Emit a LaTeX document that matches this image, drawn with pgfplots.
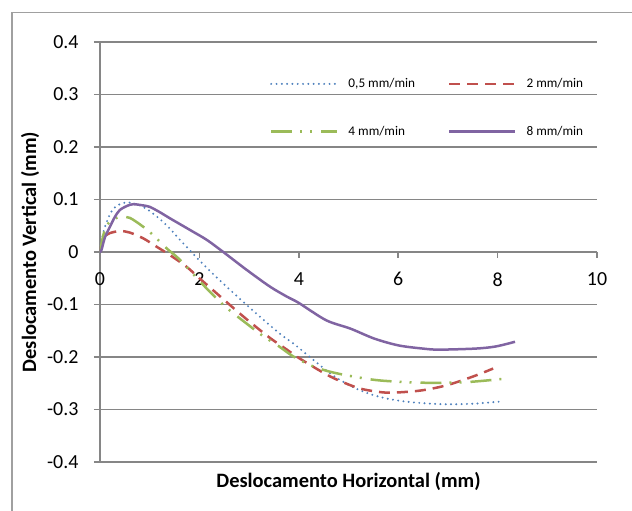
\documentclass[border=0pt]{standalone}
\usepackage{fontspec}
\setmainfont{Carlito}
\usepackage{pgfplots}
\pgfplotsset{compat=1.18}
\definecolor{gridgray}{RGB}{134,134,134}
\definecolor{framegray}{RGB}{160,160,160}
\definecolor{sA}{RGB}{79,129,189}
\definecolor{sB}{RGB}{192,80,77}
\definecolor{sC}{RGB}{155,187,89}
\definecolor{sD}{RGB}{128,100,162}
\begin{document}
\begin{tikzpicture}[x=1bp,y=1bp]
\useasboundingbox (-100,-49) rectangle (532,462);
\draw[framegray, line width=1.3bp] (-88,-60) -- (-88,449.5) -- (545,449.5);
\begin{axis}[
  at={(0bp,0bp)}, anchor=south west,
  scale only axis, width=497bp, height=420bp,
  xmin=0, xmax=10, ymin=-0.4, ymax=0.4,
  axis x line=bottom, axis y line=left,
  axis x line shift={-210bp},
  axis line style={draw=gridgray, line width=1.5bp, -},
  ymajorgrids, grid style={gridgray, line width=1.5bp},
  xtick={0,2,4,6,8,10}, xticklabels={0,2,4,6,8,10},
  ytick={-0.4,-0.3,-0.2,-0.1,0,0.1,0.2,0.3,0.4},
  yticklabels={-0.4,-0.3,-0.2,-0.1,0,0.1,0.2,0.3,0.4},
  hide obscured x ticks=false, hide obscured y ticks=false,
  tick align=outside, major tick length=6bp,
  tick style={gridgray, line width=1.5bp},
  ticklabel style={font=\fontsize{20}{24}\selectfont, text=black},
  yticklabel style={xshift=-12bp},
  xticklabel style={yshift=-11bp},
  /pgf/number format/assume math mode=true,
  xlabel={Deslocamento Horizontal (mm)},
  ylabel={Deslocamento Vertical (mm)},
  label style={font=\fontsize{20.5}{24}\selectfont\bfseries},
  xlabel style={at={(axis description cs:0.5,0)}, anchor=center, yshift=-19bp},
  ylabel style={at={([xshift=-70bp]axis description cs:0,0.5)}, anchor=center},
  legend columns=2, legend cell align=left,
  legend image code/.code={\draw[#1] (0bp,0bp) -- (66bp,0bp);},
  legend style={draw=none, fill=none, inner sep=0pt, outer sep=0pt,
    at={(rel axis cs:0.342,0.913)}, anchor=north west,
    font=\fontsize{13.3}{16}\selectfont, row sep=37bp,
    nodes={inner sep=0pt},
    /tikz/every odd column/.style={column sep=10bp},
    /tikz/every even column/.style={column sep=33bp}},
]
\addplot[sA, line width=2.2bp, line cap=round, dash pattern=on 0bp off 5.3bp, smooth] coordinates {
(0,0) (0.05,0.03) (0.1,0.048) (0.2,0.072) (0.3,0.085) (0.45,0.093) (0.6,0.094) (0.8,0.089) (1.0,0.078) (1.2,0.063) (1.4,0.045) (1.6,0.024) (1.8,0.004) (2.0,-0.016) (2.2,-0.035) (2.5,-0.062) (2.8,-0.088) (3.0,-0.105) (3.3,-0.13) (3.65,-0.158) (3.9,-0.175) (4.3,-0.206) (4.7,-0.236) (5.15,-0.26) (5.55,-0.274) (6.0,-0.283) (6.5,-0.288) (7.0,-0.29) (7.5,-0.289) (8.05,-0.285)};
\addlegendentry{0,5 mm/min}
\addplot[sB, line width=2.5bp, dash pattern=on 11bp off 7bp, smooth] coordinates {
(0,0) (0.05,0.02) (0.1,0.03) (0.2,0.036) (0.4,0.04) (0.6,0.037) (0.87,0.026) (1.14,0.01) (1.41,-0.006) (1.74,-0.028) (2.0,-0.05) (2.35,-0.079) (2.7,-0.108) (3.0,-0.132) (3.41,-0.163) (3.76,-0.186) (4.02,-0.203) (4.63,-0.237) (5.16,-0.258) (5.5,-0.265) (5.84,-0.268) (6.44,-0.264) (6.97,-0.254) (7.51,-0.237) (7.91,-0.222)};
\addlegendentry{2 mm/min}
\addplot[sC, line width=2.5bp, dash pattern=on 21bp off 8bp on 2bp off 8bp on 2bp off 9bp, smooth] coordinates {
(0,0) (0.05,0.025) (0.1,0.042) (0.2,0.058) (0.4,0.067) (0.6,0.065) (0.87,0.048) (1.07,0.032) (1.34,0.007) (1.61,-0.015) (2.08,-0.063) (2.52,-0.104) (3.0,-0.14) (3.25,-0.158) (3.62,-0.181) (3.89,-0.199) (4.29,-0.218) (4.76,-0.231) (5.56,-0.244) (6.5,-0.249) (7.35,-0.248) (8.18,-0.241)};
\addlegendentry{4 mm/min}
\addplot[sD, line width=2.5bp, smooth] coordinates {
(0,0) (0.03,0.004) (0.1,0.028) (0.2,0.048) (0.3,0.067) (0.4,0.080) (0.55,0.088) (0.67,0.091) (0.85,0.089) (1.0,0.086) (1.2,0.076) (1.41,0.064) (1.81,0.042) (2.15,0.023) (2.48,0.0) (2.95,-0.034) (3.42,-0.066) (3.76,-0.085) (4.0,-0.097) (4.55,-0.13) (5.04,-0.146) (5.52,-0.165) (6.01,-0.178) (6.5,-0.184) (6.82,-0.186) (7.55,-0.184) (7.96,-0.180) (8.35,-0.171)};
\addlegendentry{8 mm/min}
\end{axis}
\end{tikzpicture}
\end{document}
